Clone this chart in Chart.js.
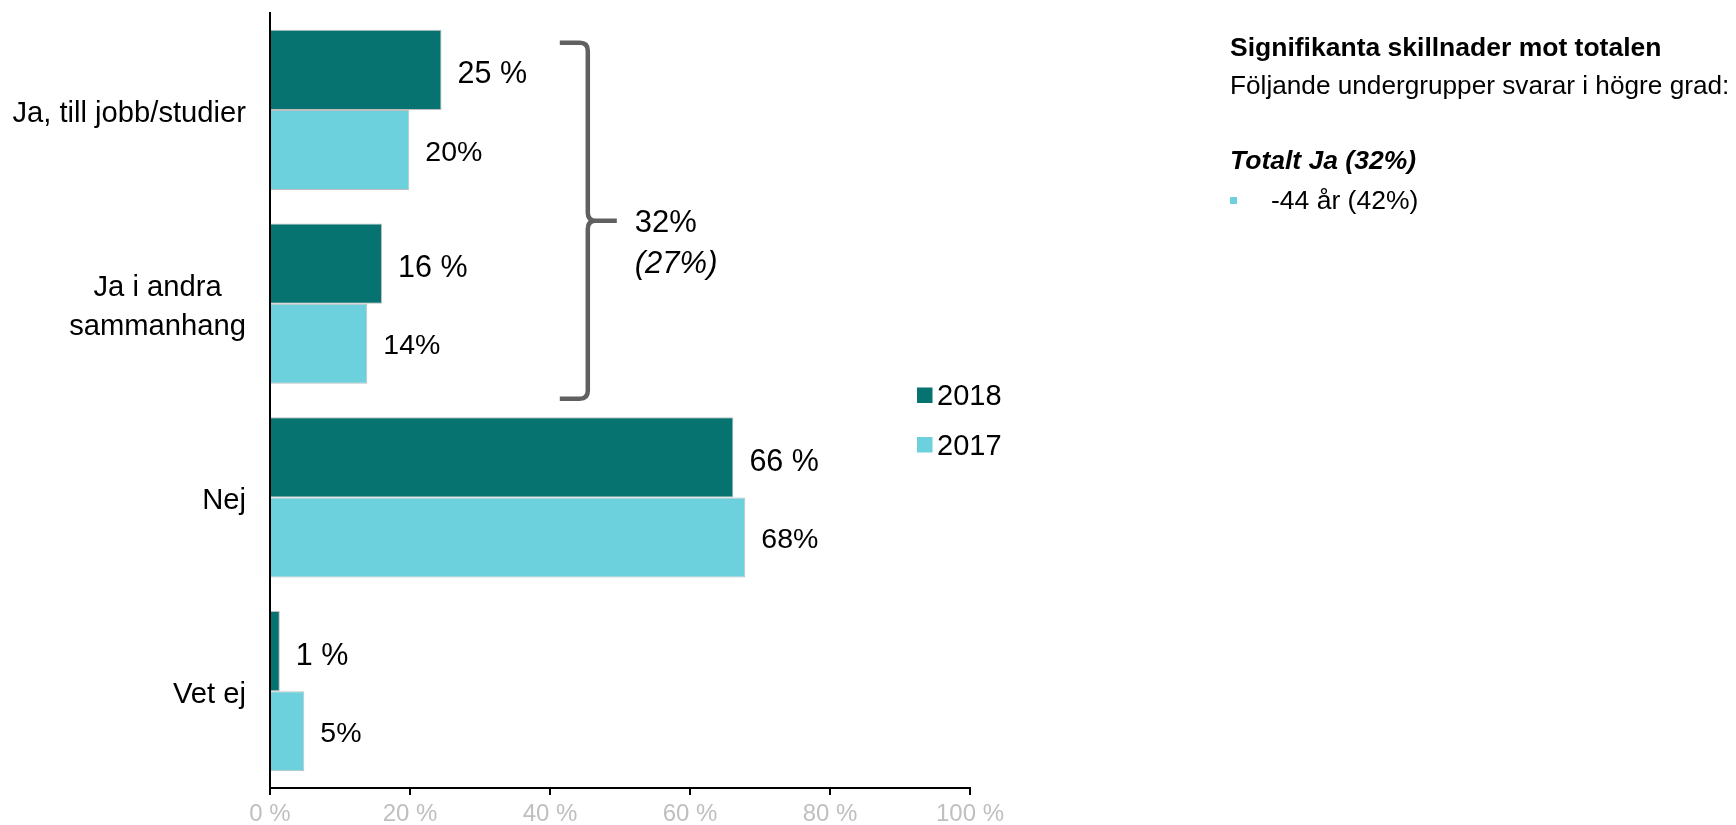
<!DOCTYPE html>
<html><head><meta charset="utf-8">
<script src="https://cdn.jsdelivr.net/npm/chart.js@4.4.1/dist/chart.umd.min.js"></script>
<style>html,body{margin:0;padding:0;background:#fff;overflow:hidden}#wrap{position:relative;width:1736px;height:825px}</style>
</head><body><div id="wrap"><canvas id="c" width="1736" height="825"></canvas></div>
<script>
// ---- data ----
const categories = [['Ja, till jobb/studier'], ['Ja i andra', 'sammanhang'], ['Nej'], ['Vet ej']];
const seriesNames = ['2018', '2017'];
const values2018 = [24.5, 16.0, 66.2, 1.4];
const values2017 = [19.9, 13.9, 67.9, 4.9];
const labels2018 = ['25 %', '16 %', '66 %', '1 %'];
const labels2017 = ['20%', '14%', '68%', '5%'];
const xTickValues = [0, 20, 40, 60, 80, 100];
const xTickLabels = ['0 %', '20 %', '40 %', '60 %', '80 %', '100 %'];
const braceLines = ['32%', '(27%)'];
const sideTitle = 'Signifikanta skillnader mot totalen';
const sideSubtitle = 'Följande undergrupper svarar i högre grad:';
const sideGroup = 'Totalt Ja (32%)';
const sideBullets = ['-44 år (42%)'];

const FONT = '"Liberation Sans", Arial, sans-serif';
const DARK = '#077370';
const LIGHT = '#6CD1DC';

const overlay = {
  id: 'overlay',
  afterDraw(chart) {
    const ctx = chart.ctx;
    const area = chart.chartArea;
    const yS = chart.scales.y, xS = chart.scales.x;
    ctx.save();
    // category labels
    ctx.fillStyle = '#000';
    ctx.font = '29.2px ' + FONT;
    ctx.textBaseline = 'middle';
    ctx.textAlign = 'center';
    const lh = 38.5;
    categories.forEach((lines, i) => {
      const y = yS.getPixelForValue(i);
      const widest = Math.max(...lines.map(l => ctx.measureText(l).width));
      const cx = area.left - 24 - widest / 2;
      lines.forEach((l, k) => {
        ctx.fillText(l, cx, y + (k - (lines.length - 1) / 2) * lh + 4);
      });
    });
    // value labels
    const allLabels = [labels2018, labels2017];
    const fonts = ['30.5px ' + FONT, '28.5px ' + FONT];
    const dy = [5, 3];
    ctx.textAlign = 'left';
    chart.data.datasets.forEach((ds, d) => {
      const meta = chart.getDatasetMeta(d);
      ctx.font = fonts[d];
      meta.data.forEach((el, i) => {
        ctx.fillText(allLabels[d][i], el.x + 16, el.y + dy[d]);
      });
    });
    // brace
    const m0 = chart.getDatasetMeta(0), m1 = chart.getDatasetMeta(1);
    const top = m0.data[0].y - m0.data[0].height / 2 + 13;
    const bot = m1.data[1].y + m1.data[1].height / 2 + 15;
    const mid = (top + bot) / 2;
    const xl = xS.getPixelForValue(41.4);
    const xv = xl + 28;
    const xt = xl + 57;
    const r = 8;
    ctx.strokeStyle = '#606060';
    ctx.lineWidth = 4.5;
    ctx.lineCap = 'butt';
    ctx.lineJoin = 'round';
    ctx.beginPath();
    ctx.moveTo(xl, top);
    ctx.lineTo(xv - r, top);
    ctx.quadraticCurveTo(xv, top, xv, top + r);
    ctx.lineTo(xv, mid - r);
    ctx.quadraticCurveTo(xv, mid, xv + r, mid);
    ctx.lineTo(xt, mid);
    ctx.moveTo(xv + r, mid);
    ctx.quadraticCurveTo(xv, mid, xv, mid + r);
    ctx.lineTo(xv, bot - r);
    ctx.quadraticCurveTo(xv, bot, xv - r, bot);
    ctx.lineTo(xl, bot);
    ctx.stroke();
    ctx.fillStyle = '#000';
    ctx.textAlign = 'left';
    ctx.font = '31px ' + FONT;
    ctx.fillText(braceLines[0], xt + 18, mid + 3);
    ctx.font = 'italic 31px ' + FONT;
    ctx.fillText(braceLines[1], xt + 18, mid + 44);
    // legend
    const lx = 917;
    chart.data.datasets.forEach((ds, d) => {
      const y = 395 + d * 49.5;
      ctx.fillStyle = ds.backgroundColor;
      ctx.fillRect(lx, y - 7.5, 15.5, 15.5);
      ctx.fillStyle = '#000';
      ctx.font = '29px ' + FONT;
      ctx.fillText(ds.label, lx + 20, y + 2);
    });
    // side text
    const sx = 1230;
    ctx.fillStyle = '#000';
    ctx.font = 'bold 26.5px ' + FONT;
    ctx.fillText(sideTitle, sx, 49);
    ctx.font = '26.2px ' + FONT;
    ctx.fillText(sideSubtitle, sx, 87);
    ctx.font = 'italic bold 26.5px ' + FONT;
    ctx.fillText(sideGroup, sx, 162);
    sideBullets.forEach((b, i) => {
      const y = 202 + i * 38;
      ctx.fillStyle = LIGHT;
      ctx.fillRect(sx, y - 5, 7, 7);
      ctx.fillStyle = '#000';
      ctx.font = '26.5px ' + FONT;
      ctx.fillText(b, sx + 41, y);
    });
    ctx.restore();
  }
};

new Chart(document.getElementById('c'), {
  type: 'bar',
  data: {
    labels: categories,
    datasets: [
      { label: seriesNames[0], data: values2018, backgroundColor: DARK, borderColor: '#BFBFBF', borderWidth: 1, borderSkipped: 'start' },
      { label: seriesNames[1], data: values2017, backgroundColor: LIGHT, borderColor: '#BFBFBF', borderWidth: 1, borderSkipped: 'start' }
    ]
  },
  options: {
    indexAxis: 'y',
    responsive: false,
    animation: false,
    devicePixelRatio: 1,
    layout: { padding: { left: 270, right: 766, top: 13, bottom: 0 } },
    datasets: { bar: { categoryPercentage: 0.826, barPercentage: 1.0 } },
    plugins: { legend: { display: false }, tooltip: { enabled: false } },
    scales: {
      y: {
        grid: { display: false },
        ticks: { display: false },
        border: { display: true, color: '#000', width: 2 },
        afterFit(s) { s.width = 0; }
      },
      x: {
        min: 0, max: 100,
        afterBuildTicks(s) { s.ticks = xTickValues.map(v => ({ value: v })); },
        ticks: {
          callback: (v, i) => xTickLabels[i],
          color: '#BFBFBF',
          font: { size: 24, family: FONT },
          padding: 5,
          maxRotation: 0
        },
        grid: { display: true, drawOnChartArea: false, drawTicks: true, tickLength: 7, color: '#000', lineWidth: 2 },
        border: { display: true, color: '#000', width: 2 },
        afterFit(s) { s.height = 37; }
      }
    }
  },
  plugins: [overlay]
});
</script>
</body></html>
